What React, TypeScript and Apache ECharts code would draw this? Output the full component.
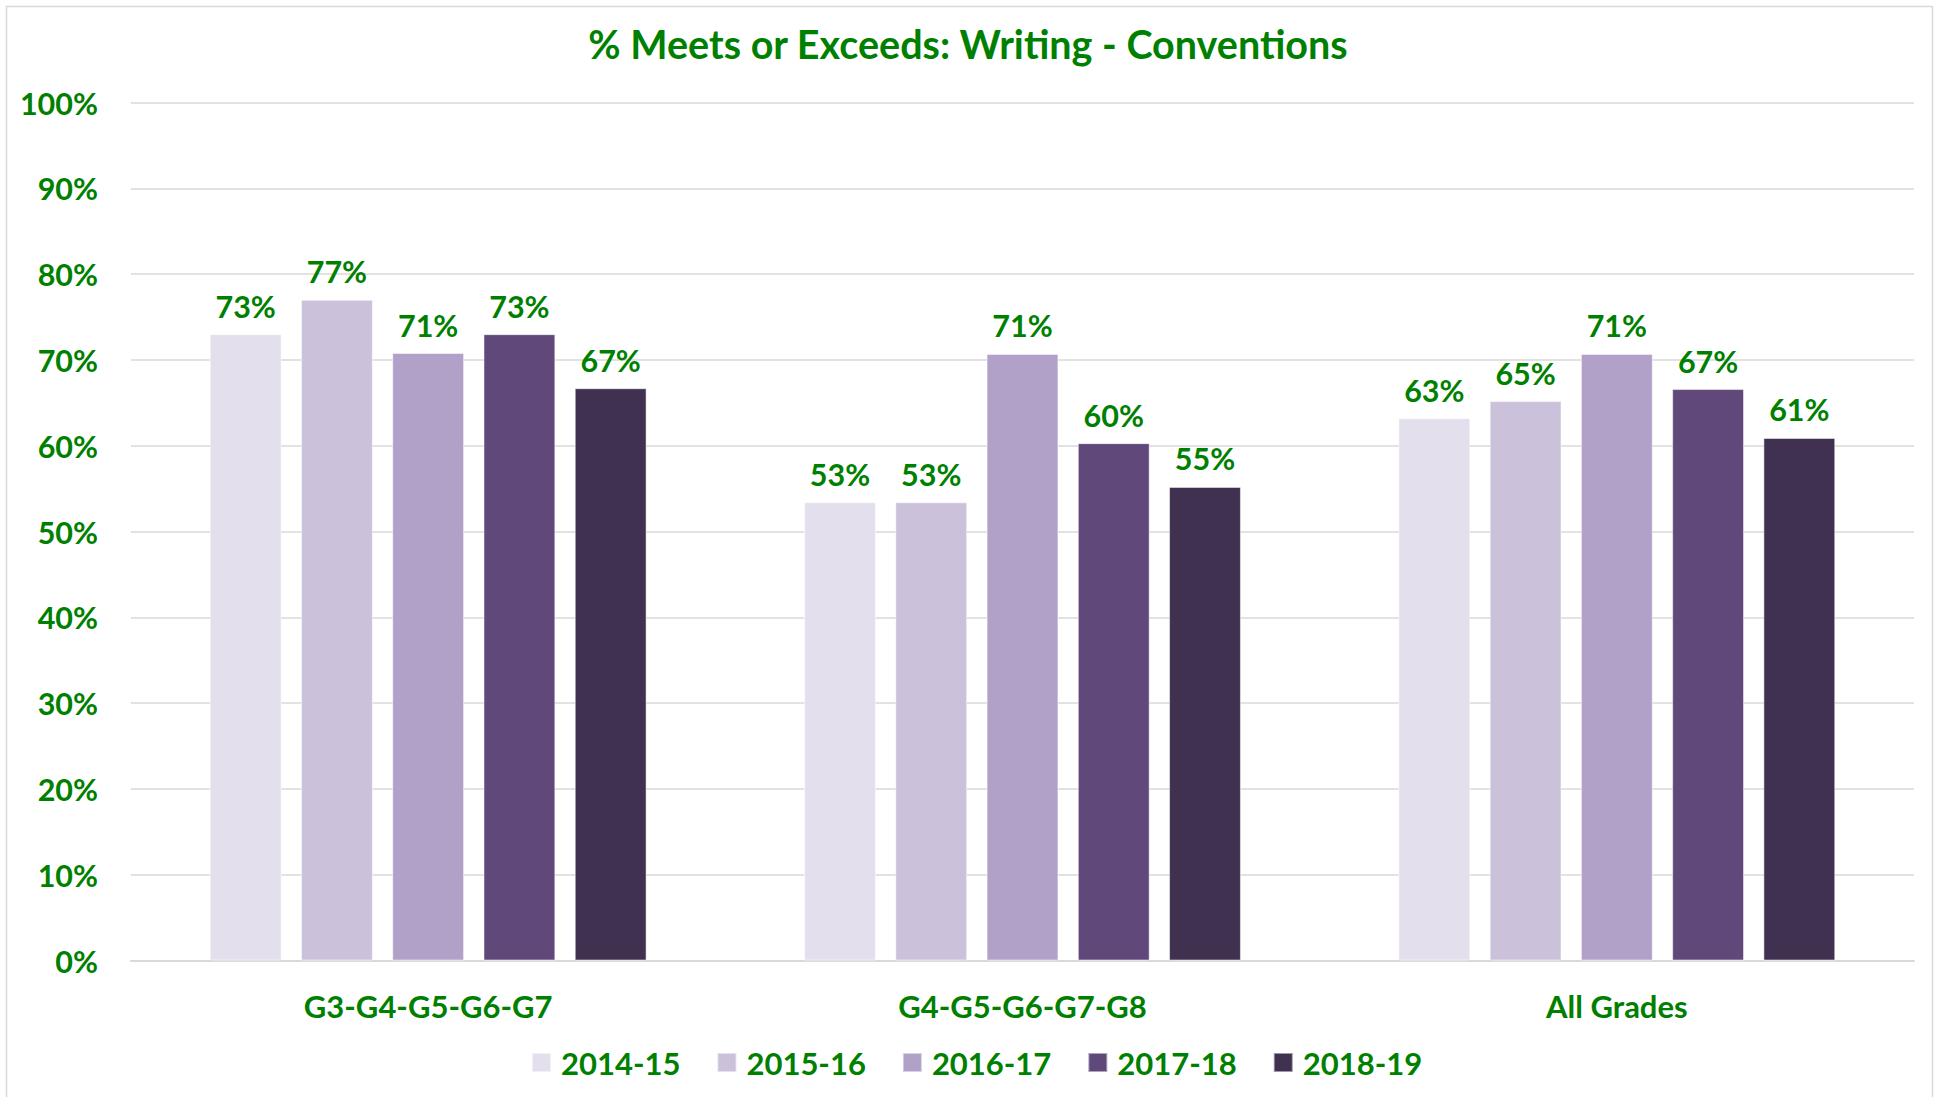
import React, { useEffect, useRef } from "react";
import * as echarts from "echarts";

const categories = ["G3-G4-G5-G6-G7", "G4-G5-G6-G7-G8", "All Grades"];
const seriesNames = ["2014-15", "2015-16", "2016-17", "2017-18", "2018-19"];
const v2014 = [0.73, 0.534, 0.632];
const v2015 = [0.77, 0.534, 0.652];
const v2016 = [0.708, 0.707, 0.707];
const v2017 = [0.73, 0.603, 0.666];
const v2018 = [0.667, 0.552, 0.609];
const seriesValues = [v2014, v2015, v2016, v2017, v2018];
const colors = ["#E4DFEC", "#CBC1DA", "#B1A0C7", "#60497A", "#403151"];
const yTicks = [0, 0.1, 0.2, 0.3, 0.4, 0.5, 0.6, 0.7, 0.8, 0.9, 1.0];

const GREEN = "#008000";
const FONT = "Lato";

export default function App() {
  const ref = useRef<HTMLDivElement>(null);
  useEffect(() => {
    if (!ref.current) return;
    const chart = echarts.init(ref.current, null, { renderer: "svg" });
    chart.setOption({
      animation: false,
      backgroundColor: "#ffffff",
      title: {
        text: "% Meets or Exceeds: Writing - Conventions",
        left: "center",
        top: 18,
        textStyle: { color: GREEN, fontFamily: FONT, fontWeight: "bold", fontSize: 39.5 },
      },
      graphic: [
        {
          type: "rect",
          shape: { x: 6.5, y: 6.5, width: 1926, height: 1100 },
          style: { fill: "none", stroke: "#d9d9d9", lineWidth: 1.5 },
          silent: true,
        },
      ],
      legend: {
        data: seriesNames,
        bottom: 14,
        left: 526,
        itemWidth: 19,
        itemHeight: 19,
        itemGap: 36,
        icon: "rect",
        textStyle: { color: GREEN, fontFamily: FONT, fontWeight: "bold", fontSize: 31, padding: [0, 0, 0, 5] },
      },
      grid: { left: 131, right: 22, top: 102.5, bottom: 136.5, containLabel: false },
      xAxis: {
        type: "category",
        data: categories,
        axisLine: { show: true, lineStyle: { color: "#d9d9d9", width: 2 } },
        axisTick: { show: false },
        axisLabel: { color: GREEN, fontFamily: FONT, fontWeight: "bold", fontSize: 31, margin: 30 },
      },
      yAxis: {
        type: "value",
        min: 0,
        max: 1,
        interval: 0.1,
        axisLine: { show: false },
        axisTick: { show: false },
        splitLine: { lineStyle: { color: "#d9d9d9", width: 1.5 } },
        axisLabel: {
          color: GREEN,
          fontFamily: FONT,
          fontWeight: "bold",
          fontSize: 30.5,
          margin: 33,
          formatter: (v: number) => {
            const t = yTicks.find((x) => Math.abs(x - v) < 1e-6);
            return Math.round((t ?? v) * 100) + "%";
          },
        },
      },
      series: seriesNames.map((name, i) => ({
        name,
        type: "bar",
        data: seriesValues[i],
        barGap: "27%",
        barCategoryGap: "26.5%",
        itemStyle: { color: colors[i], borderColor: "rgba(255,255,255,0.5)", borderWidth: 1 },
        label: {
          show: true,
          position: "top",
          distance: 13,
          color: GREEN,
          fontFamily: FONT,
          fontWeight: "bold",
          fontSize: 30.5,
          formatter: (p: any) => Math.round(p.value * 100) + "%",
        },
      })),
    });
    return () => chart.dispose();
  }, []);
  return (
    <div
      ref={ref}
      style={{ position: "fixed", left: 0, top: 0, width: 1936, height: 1097 }}
    />
  );
}
